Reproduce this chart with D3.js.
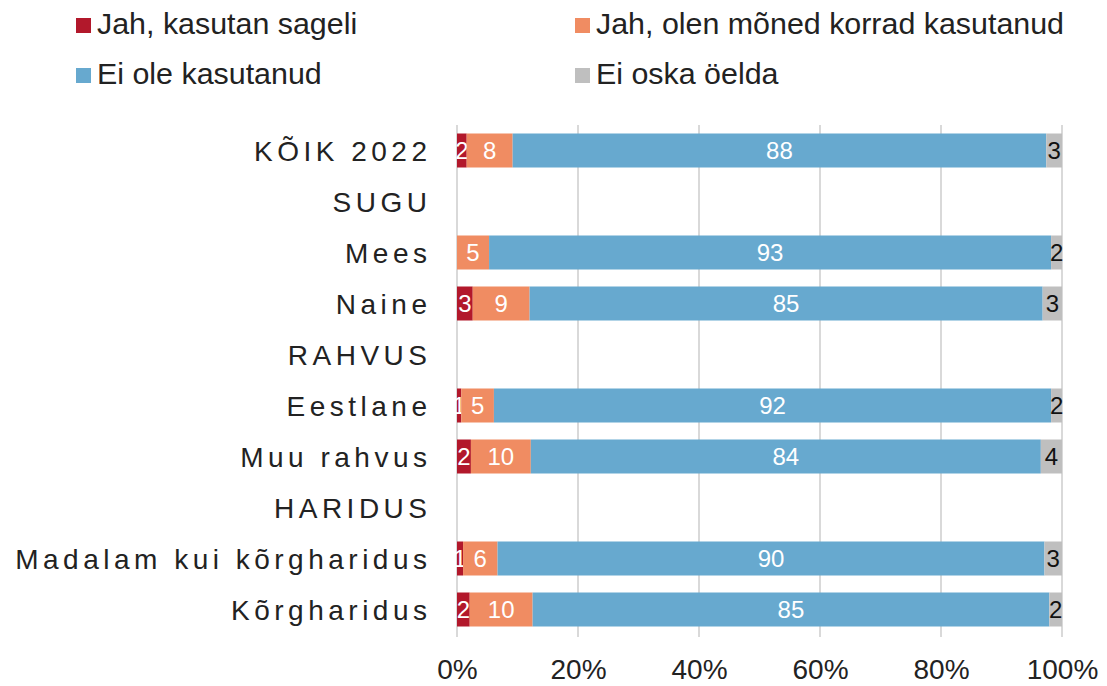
<!DOCTYPE html>
<html>
<head>
<meta charset="utf-8">
<script src="https://cdn.jsdelivr.net/npm/d3@7"></script>
<style>
  html, body { margin: 0; padding: 0; background: #fff; }
  svg { display: block; font-family: "Liberation Sans", Arial, sans-serif; }
</style>
</head>
<body>
<svg id="chart" width="1107" height="686"></svg>
<script>
const categories = ["KÕIK 2022", "SUGU", "Mees", "Naine", "RAHVUS", "Eestlane", "Muu rahvus", "HARIDUS", "Madalam kui kõrgharidus", "Kõrgharidus"];
const seriesNames = ["Jah, kasutan sageli", "Jah, olen mõned korrad kasutanud", "Ei ole kasutanud", "Ei oska öelda"];
const sageli      = [1.6, null, 0,    2.6,  null, 0.7,  2.3,  null, 1.0,  2.1];
const monedKorrad = [7.6, null, 5.3,  9.4,  null, 5.4,  9.9,  null, 5.7,  10.4];
const eiOle       = [88.2, null, 92.9, 84.8, null, 92.1, 84.3, null, 90.4, 85.4];
const eiOska      = [2.6, null, 1.8,  3.2,  null, 1.8,  3.5,  null, 2.9,  2.1];
const xTicks = [0, 20, 40, 60, 80, 100];

const colors = ["#B2182B", "#F08C62", "#67A9CF", "#BFBFBF"];
const labelColors = ["#fff", "#fff", "#fff", "#111"];

const svg = d3.select("#chart");
const keys = ["s0", "s1", "s2", "s3"];
const rows = categories.map((c, i) => ({
  cat: c,
  has: sageli[i] !== null,
  s0: sageli[i] || 0, s1: monedKorrad[i] || 0, s2: eiOle[i] || 0, s3: eiOska[i] || 0
}));

const x = d3.scaleLinear().domain([0, 100]).range([457, 1062]);
const y = d3.scaleBand().domain(categories).range([125, 635]).paddingInner(1/3).paddingOuter(1/6);

// gridlines
svg.append("g").selectAll("line").data(xTicks).join("line")
  .attr("x1", d => x(d)).attr("x2", d => x(d))
  .attr("y1", 125).attr("y2", 637)
  .attr("stroke", "#D9D9D9").attr("stroke-width", 2);

// x axis tick labels
const xAxis = d3.axisBottom(x).tickValues(xTicks).tickFormat(d => d + "%").tickSize(0).tickPadding(0);
const gx = svg.append("g").attr("transform", "translate(0,679)").call(xAxis);
gx.select(".domain").remove();
gx.selectAll("text").attr("font-size", 28).attr("fill", "#222")
  .attr("font-family", "'Liberation Sans', Arial, sans-serif").attr("dy", 0);

// bars
const stack = d3.stack().keys(keys);
const stacked = stack(rows);
stacked.forEach((layer, li) => {
  const g = svg.append("g");
  const dataRows = layer.filter(d => d.data.has);
  g.selectAll("rect").data(dataRows).join("rect")
    .attr("x", d => x(d[0]))
    .attr("width", d => x(d[1]) - x(d[0]))
    .attr("y", d => y(d.data.cat))
    .attr("height", y.bandwidth())
    .attr("fill", colors[li]);
  g.selectAll("text").data(dataRows.filter(d => d[1] - d[0] > 0)).join("text")
    .attr("x", d => (x(d[0]) + x(d[1])) / 2)
    .attr("y", d => y(d.data.cat) + y.bandwidth() / 2)
    .attr("dy", "0.36em")
    .attr("text-anchor", "middle")
    .attr("font-size", 24)
    .attr("fill", labelColors[li])
    .text(d => Math.round(d[1] - d[0]));
});

// category labels
const ls = 4.5;
svg.append("g").selectAll("text").data(categories).join("text")
  .attr("x", 427 + ls)
  .attr("y", d => y(d) + y.bandwidth() / 2)
  .attr("dy", "0.36em")
  .attr("text-anchor", "end")
  .attr("font-size", 28)
  .attr("letter-spacing", ls)
  .attr("fill", "#222")
  .text(d => d);

// legend
const legPos = [[76, 34], [575, 34], [76, 84], [575, 84]];
const lg = svg.append("g").selectAll("g").data(seriesNames).join("g")
  .attr("transform", (d, i) => `translate(${legPos[i][0]},${legPos[i][1]})`);
lg.append("rect").attr("y", -16).attr("width", 15).attr("height", 15).attr("fill", (d, i) => colors[i]);
lg.append("text").attr("x", 21).attr("y", 0)
  .attr("font-size", 30.4).attr("fill", "#222").text(d => d);
</script>
</body>
</html>
